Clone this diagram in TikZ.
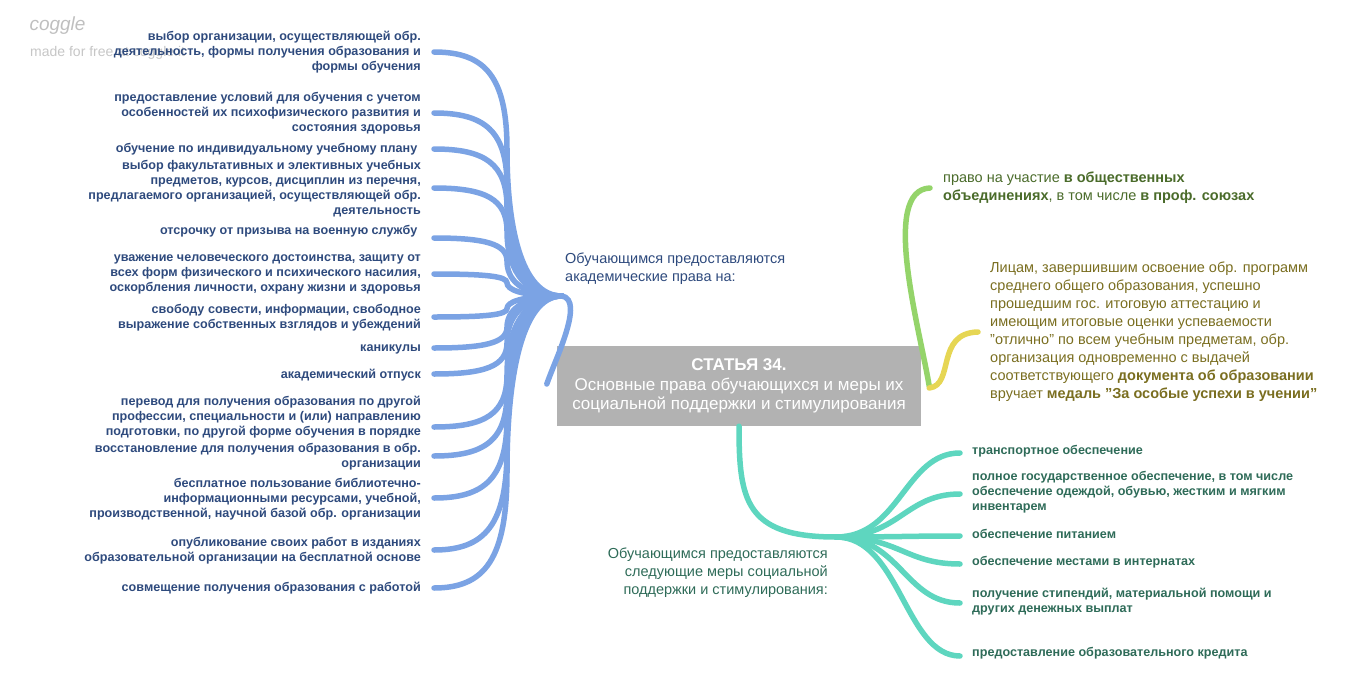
\documentclass[tikz,border=0pt]{standalone}
\usepackage{fontspec}
\setmainfont{Liberation Sans}
\begin{document}
\begin{tikzpicture}[x=1pt,y=-1pt,
  lt/.style={anchor=east,align=right,font=\bfseries\fontsize{12.6}{15}\selectfont,text=lblue,inner sep=0pt},
  rt/.style={anchor=west,align=left,font=\bfseries\fontsize{12.6}{15}\selectfont,text=lteal,inner sep=0pt},
  bl/.style={draw=cblue,line width=5.5pt,line cap=round},
  tl/.style={draw=cteal,line width=5.5pt,line cap=round}]
\definecolor{cblue}{HTML}{7BA3E4}
\definecolor{lblue}{HTML}{2E4A7D}
\definecolor{cteal}{HTML}{5ED6BF}
\definecolor{lteal}{HTML}{2E6B58}
\definecolor{cgreen}{HTML}{94D46A}
\definecolor{cyel}{HTML}{E6D654}
\definecolor{tgreen}{HTML}{4A6B2A}
\definecolor{tyel}{HTML}{7A6E20}
\useasboundingbox (0,0) rectangle (1370,696);
\node[anchor=west,text=gray!50,font=\itshape\fontsize{19}{19}\selectfont] (cg) at (26,26) {coggle};
\node[anchor=west,text=gray!45,font=\fontsize{14}{15}\selectfont,inner sep=0pt] (mf) at (30,53) {made for free at coggle.it};
\coordinate (bh) at (562,296);
\coordinate (th) at (836,537);
\node[fill=gray!60,text=white,minimum width=364pt,minimum height=80pt,align=center,font=\fontsize{17}{19.5}\selectfont] (c) at (739,386) {\textbf{СТАТЬЯ 34.}\\Основные права обучающихся и меры их\\социальной поддержки и стимулирования};
\foreach \n/\y/\t in {
 a1/52/{выбор организации, осуществляющей обр.\\деятельность, формы получения образования и\\формы обучения},
 a2/113/{предоставление условий для обучения с учетом\\особенностей их психофизического развития и\\состояния здоровья},
 a3/149/{обучение по индивидуальному учебному плану\ },
 a4/189/{выбор факультативных и элективных учебных\\предметов, курсов, дисциплин из перечня,\\предлагаемого организацией, осуществляющей обр.\\деятельность},
 a5/231/{отсрочку от призыва на военную службу\ },
 a6/274/{уважение человеческого достоинства, защиту от\\всех форм физического и психического насилия,\\оскорбления личности, охрану жизни и здоровья},
 a7/318/{свободу совести, информации, свободное\\выражение собственных взглядов и убеждений},
 a8/349/{каникулы},
 a9/375/{академический отпуск},
 a10/417/{перевод для получения образования по другой\\профессии, специальности и (или) направлению\\подготовки, по другой форме обучения в порядке},
 a11/457/{восстановление для получения образования в обр.\\организации},
 a12/499/{бесплатное пользование библиотечно-\\информационными ресурсами, учебной,\\производственной, научной базой обр. организации},
 a13/551/{опубликование своих работ в изданиях\\образовательной организации на бесплатной основе},
 a14/588/{совмещение получения образования с работой}}
 {\node[lt] (\n) at (421,\y) {\t};}
\foreach \n/\y in {a1/52,a2/113,a3/149,a4/188,a5/238,a6/274,a7/317,a8/348,a9/374,a10/427,a11/456,a12/498,a13/550,a14/588}
 {\coordinate (e\n) at (434,\y);
  \pgfmathsetmacro{\m}{\y+(296-\y)*0.4}
  \pgfmathsetmacro{\ma}{(\m+296)/2}
  \pgfmathsetmacro{\mb}{\y+(296-\y)*0.1}
  \draw[bl] (bh) .. controls (520,296) and (507,\ma) .. (507,\m) .. controls (507,\mb) and (485,\y) .. (e\n);}
\draw[bl] (c.west) ++(-10,-2) .. controls (555,360) and (585,300) .. (bh);
\node[anchor=west,align=left,text=lblue,font=\fontsize{14.5}{18}\selectfont,inner sep=0pt] (al) at (565,269) {Обучающимся предоставляются\\академические права на:};
\coordinate (ge) at (930,188);
\draw[draw=cgreen,line width=5.5pt,line cap=round] (c.east) ++(8,0) .. controls (920,330) and (880,190) .. (ge);
\node[anchor=west,align=left,text=tgreen,font=\fontsize{14.5}{18}\selectfont,inner sep=0pt] (gl) at (943,188) {право на участие \textbf{в общественных}\\\textbf{объединениях}, в том числе \textbf{в проф. союзах}};
\coordinate (ye) at (978,332);
\draw[draw=cyel,line width=5.5pt,line cap=round] (c.east) ++(8,2) .. controls (955,385) and (935,333) .. (ye);
\node[anchor=west,align=left,text=tyel,font=\fontsize{14.5}{18}\selectfont,inner sep=0pt] (yl) at (990,332) {Лицам, завершившим освоение обр. программ\\среднего общего образования, успешно\\прошедшим гос. итоговую аттестацию и\\имеющим итоговые оценки успеваемости\\"отлично" по всем учебным предметам, обр.\\организация одновременно с выдачей\\соответствующего \textbf{документа об образовании}\\вручает \textbf{медаль "За особые успехи в учении"}};
\draw[tl] (c.south) .. controls (739,500) and (745,537) .. (th);
\node[anchor=east,align=right,text=lteal,font=\fontsize{14.5}{18}\selectfont,inner sep=0pt] (tl0) at (828,573) {Обучающимся предоставляются\\следующие меры социальной\\поддержки и стимулирования:};
\foreach \n/\y/\t in {
 b1/451/{транспортное обеспечение},
 b2/492/{полное государственное обеспечение, в том числе\\обеспечение одеждой, обувью, жестким и мягким\\инвентарем},
 b3/534/{обеспечение питанием},
 b4/562/{обеспечение местами в интернатах},
 b5/602/{получение стипендий, материальной помощи и\\других денежных выплат},
 b6/653/{предоставление образовательного кредита}}
 {\node[rt] (\n) at (972,\y) {\t};}
\foreach \n/\y in {b1/453,b2/494,b3/536,b4/564,b5/603,b6/656}
 {\coordinate (e\n) at (960,\y);
  \draw[tl] (th) .. controls (900,537) and (905,\y) .. (e\n);}
\end{tikzpicture}
\end{document}
